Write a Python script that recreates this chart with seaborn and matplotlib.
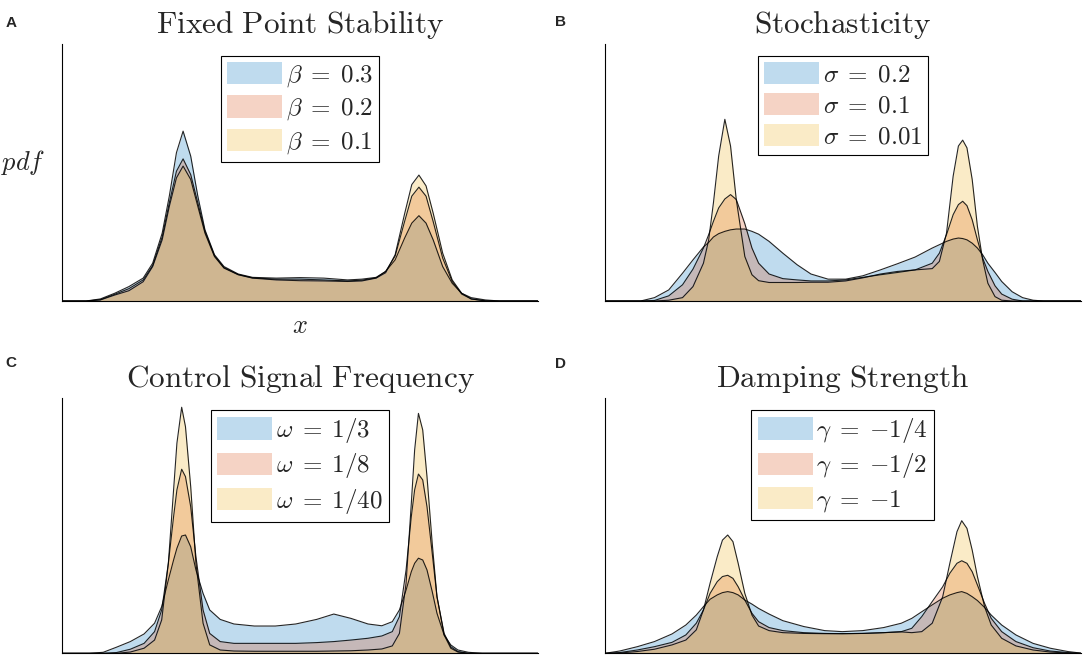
import matplotlib
matplotlib.use("Agg")
import matplotlib.pyplot as plt
import seaborn as sns
from matplotlib.patches import Patch

# ---------- data (x and pdf in % of the axes box) ----------
# A: fixed point stability
x_a = [0, 5, 8, 11, 14, 17, 19, 21, 22.5, 24, 25.4, 27, 28.5, 30, 32, 34, 37, 40, 45, 50,
       55, 60, 63, 66, 68, 70, 72, 73.5, 75, 76.5, 78, 80, 82, 84, 86, 89, 92, 95, 100]
beta_03 = [0, 0, 0.8, 3.0, 5.6, 8.9, 14.7, 26.4, 40.8, 57.7, 66.1, 56.4, 40.8, 27.7, 18.0, 13.4, 10.5, 9.2, 8.9, 9.1,
           8.9, 8.2, 8.5, 9.2, 11.5, 16.0, 24.5, 30.3, 33.2, 30.3, 23.8, 13.4, 6.9, 3.0, 1.3, 0.4, 0, 0, 0]
beta_02 = [0, 0, 0.5, 2.6, 4.8, 8.2, 13.8, 24.9, 38.2, 50.5, 55.3, 49.2, 38.2, 27.1, 17.6, 13.0, 10.3, 9.0, 8.5, 8.5,
           8.2, 7.8, 8.1, 9.0, 11.5, 17.5, 31.0, 40.8, 44.3, 40.8, 30.9, 16.7, 7.6, 2.7, 0.8, 0.1, 0, 0, 0]
beta_01 = [0, 0, 0.4, 2.3, 4.0, 7.5, 13.4, 23.8, 36.8, 47.9, 52.5, 47.3, 36.8, 26.4, 17.3, 12.8, 10.2, 8.9, 8.2, 7.9,
           7.8, 7.6, 7.8, 8.9, 11.0, 18.0, 34.0, 45.3, 49.0, 44.8, 34.2, 18.6, 8.2, 3.0, 0.8, 0, 0, 0, 0]
labels_a = [r'$\beta\;=\;0.3$', r'$\beta\;=\;0.2$', r'$\beta\;=\;0.1$']

# B: stochasticity
x_b = [0, 7.5, 10.4, 13.4, 16.3, 18.5, 20.7, 21.8, 22.8, 23.9, 25.2, 26.4, 27.6, 29.4, 30.9, 32.3, 34.5, 37.4, 40.4, 43.3,
       46.9, 50.6, 54.2, 57.9, 61.5, 65.2, 68.8, 70.3, 71.8, 73.2, 74.3, 75.2, 76.1, 77.2, 78.3, 79.4, 80.5, 82.0, 83.4, 85.6,
       87.8, 90.0, 92.2, 100]
sigma_02 = [0, 0, 1.3, 4.3, 10.8, 16.0, 21.0, 22.8, 24.9, 26.2, 27.1, 27.7, 28.0, 28.0, 27.1, 26.0, 23.2, 18.6, 14.1, 10.5,
            8.5, 8.5, 9.8, 12.1, 14.5, 17.1, 20.6, 21.9, 23.2, 24.1, 24.5, 24.3, 23.8, 22.5, 20.6, 18.0, 14.7, 11.1, 7.6, 3.6,
            1.3, 0.3, 0, 0]
sigma_01 = [0, 0, 0.2, 2.0, 6.3, 12.4, 20.6, 25.8, 31.0, 36.2, 39.7, 41.4, 39.5, 30.1, 20.6, 14.7, 10.5, 8.7, 8.2, 7.8,
            7.8, 8.2, 9.2, 10.2, 11.1, 12.1, 14.7, 18.6, 25.8, 33.6, 37.5, 38.8, 37.1, 31.6, 23.8, 16.7, 11.5, 5.9, 2.7, 0.7,
            0, 0, 0, 0]
sigma_001 = [0, 0, 0, 0.3, 1.3, 5.6, 14.7, 23.8, 38.2, 56.4, 70.7, 60.3, 39.5, 17.3, 10.2, 7.9, 7.2, 7.2, 7.2, 7.3,
             7.3, 7.8, 9.0, 10.5, 11.5, 12.1, 12.6, 15.4, 26.4, 48.6, 60.3, 62.6, 59.6, 47.3, 29.0, 16.0, 6.9, 1.7, 0.3, 0,
             0, 0, 0, 0]
labels_b = [r'$\sigma\;=\;0.2$', r'$\sigma\;=\;0.1$', r'$\sigma\;=\;0.01$']

# C: control signal frequency
x_c = [0, 5.7, 8.6, 11.4, 14.3, 17.2, 19.4, 20.9, 22.3, 23.4, 24.1, 25.1, 25.9, 27.0, 28.1, 29.6, 31.0, 33.2, 36.1, 40.4,
       44.8, 49.1, 53.5, 57.1, 60.7, 64.3, 67.2, 69.4, 70.9, 72.3, 73.4, 74.1, 74.9, 75.8, 76.7, 77.8, 78.8, 80.3, 81.7, 83.2,
       85.4, 88.3, 100]
omega_3 = [0, 0, 0.4, 2.4, 4.6, 7.6, 11.8, 18.3, 28.8, 36.6, 41.2, 46.0, 46.4, 41.8, 32.7, 23.5, 17.0, 13.3, 11.5, 10.7,
           10.7, 11.5, 13.3, 15.4, 13.7, 11.5, 10.8, 12.4, 17.0, 24.8, 32.0, 35.3, 37.3, 36.6, 32.7, 24.2, 15.7, 7.2, 3.3, 1.3,
           0.4, 0, 0]
omega_8 = [0, 0, 0, 0.3, 1.6, 3.9, 8.5, 17.0, 35.3, 53.6, 64.1, 72.2, 69.3, 57.5, 37.9, 17.0, 7.8, 4.6, 3.9, 3.9,
           3.9, 3.9, 4.2, 4.6, 5.2, 5.9, 6.8, 8.5, 14.4, 32.7, 53.6, 64.1, 70.3, 68.0, 57.5, 39.2, 22.2, 7.8, 2.6, 0.7,
           0, 0, 0]
omega_40 = [0, 0, 0, 0, 0.5, 2.0, 5.2, 13.1, 35.3, 64.1, 82.4, 96.5, 88.9, 65.4, 35.3, 11.8, 3.3, 1.3, 0.9, 0.8,
            0.8, 0.8, 0.8, 0.9, 1.0, 1.3, 1.7, 2.9, 7.8, 27.5, 58.8, 79.7, 94.1, 87.6, 69.3, 43.1, 22.2, 7.2, 2.0, 0.5,
            0, 0, 0]
labels_c = [r'$\omega\;=\;1/3$', r'$\omega\;=\;1/8$', r'$\omega\;=\;1/40$']

# D: damping strength
x_d = [0, 3.1, 6.8, 10.4, 14.1, 17.0, 19.2, 20.7, 22.1, 23.6, 24.7, 25.8, 26.9, 28.0, 29.4, 30.9, 32.3, 34.5, 37.4, 41.8,
       46.2, 49.9, 54.2, 58.6, 62.3, 64.5, 66.6, 68.8, 71.0, 72.5, 74.0, 75.0, 76.1, 77.2, 78.3, 79.8, 81.2, 83.4, 86.4, 90.0,
       93.6, 97.3, 100]
gamma_4 = [0, 0.9, 2.6, 4.6, 7.6, 11.1, 15.0, 18.3, 21.2, 22.9, 23.8, 24.2, 23.8, 22.9, 20.9, 19.3, 17.6, 15.4, 12.8, 10.5,
           8.9, 8.5, 8.9, 10.1, 11.8, 13.7, 16.3, 19.0, 21.6, 22.9, 23.8, 24.2, 23.5, 22.2, 20.7, 18.0, 15.0, 11.1, 7.2, 3.9,
           2.0, 0.7, 0.1]
gamma_2 = [0, 0.3, 1.3, 2.6, 4.3, 7.2, 11.8, 17.0, 23.5, 28.1, 30.1, 30.6, 29.4, 26.1, 20.9, 15.7, 12.4, 10.1, 8.9, 8.1,
           7.8, 7.7, 7.8, 8.1, 8.5, 9.8, 14.4, 20.3, 26.1, 31.4, 35.3, 36.3, 35.3, 32.0, 26.8, 19.6, 13.7, 8.5, 4.6, 2.2,
           0.9, 0.3, 0]
gamma_1 = [0, 0.1, 0.7, 1.6, 3.3, 5.2, 9.2, 17.0, 27.5, 37.9, 44.4, 46.4, 43.8, 35.3, 23.5, 15.0, 10.7, 8.9, 8.1, 7.8,
           7.7, 7.7, 7.8, 8.1, 8.4, 8.1, 8.5, 11.8, 22.2, 35.3, 47.7, 52.0, 49.0, 40.5, 30.1, 18.3, 11.1, 5.9, 2.9, 1.3,
           0.5, 0.1, 0]
labels_d = [r'$\gamma\;=\;{-}1/4$', r'$\gamma\;=\;{-}1/2$', r'$\gamma\;=\;{-}1$']

# ---------- styling ----------
sns.set_theme(style="white")
plt.rcParams['mathtext.fontset'] = 'cm'
plt.rcParams['font.family'] = ['DejaVu Sans']

colors = ['#0072BD', '#D95319', '#EDB120']   # matlab default order
ALPHA = 0.25

fig = plt.figure(figsize=(10.84, 6.64), dpi=100)

panels = [
    ('A', 'Fixed\\ Point\\ Stability', x_a, [beta_03, beta_02, beta_01], labels_a,
     [0.0575, 0.5467, 0.4386, 0.3870], (11, 23)),
    ('B', 'Stochasticity', x_b, [sigma_02, sigma_01, sigma_001], labels_b,
     [0.5581, 0.5467, 0.4388, 0.3870], (561, 22)),
    ('C', 'Control\\ Signal\\ Frequency', x_c, [omega_3, omega_8, omega_40], labels_c,
     [0.0575, 0.0161, 0.4386, 0.3840], (11, 363)),
    ('D', 'Damping\\ Strength', x_d, [gamma_4, gamma_2, gamma_1], labels_d,
     [0.5581, 0.0161, 0.4388, 0.3840], (561, 364)),
]

for letter, title, xs, curves, labels, rect, lpos in panels:
    ax = fig.add_axes(rect)
    for ys, c in zip(curves, colors):
        ax.fill_between(xs, ys, color=c, alpha=ALPHA, lw=0)
        sns.lineplot(x=xs, y=ys, color='black', linewidth=0.8, alpha=0.85, ax=ax)
    ax.set_xlim(0, 100)
    ax.set_ylim(0, 100)
    ax.set_xticks([])
    ax.set_yticks([])
    ax.set_xlabel('')
    ax.set_ylabel('')
    sns.despine(ax=ax)
    for s in ['left', 'bottom']:
        ax.spines[s].set_color('black')
        ax.spines[s].set_linewidth(0.8)
    ax.set_title(r'$\mathrm{' + title + '}$', fontsize=22.5, pad=8)

    handles = [Patch(facecolor=c, alpha=ALPHA, edgecolor='none') for c in colors]
    leg = ax.legend(handles, labels, loc='upper center', bbox_to_anchor=(0.5, 0.955),
                    borderaxespad=0, fontsize=18, frameon=True, fancybox=False, framealpha=1,
                    edgecolor='black', handlelength=2.2, handleheight=1.0,
                    handletextpad=0.15, labelspacing=0.25, borderpad=0.25)
    leg.get_frame().set_linewidth(0.8)

    fig.text(lpos[0] / 1084, 1 - lpos[1] / 664, letter, fontsize=11, fontweight='bold',
             family=['Liberation Sans', 'DejaVu Sans'], ha='center', va='center')

    if letter == 'A':
        ax.set_ylabel(r'$pdf$', rotation=0, fontsize=19, ha='center', va='center')
        ax.yaxis.set_label_coords(-0.083, 0.54)
        ax.set_xlabel(r'$x$', fontsize=19, va='center')
        ax.xaxis.set_label_coords(0.5, -0.097)

fig.savefig('out.png', dpi=100)
